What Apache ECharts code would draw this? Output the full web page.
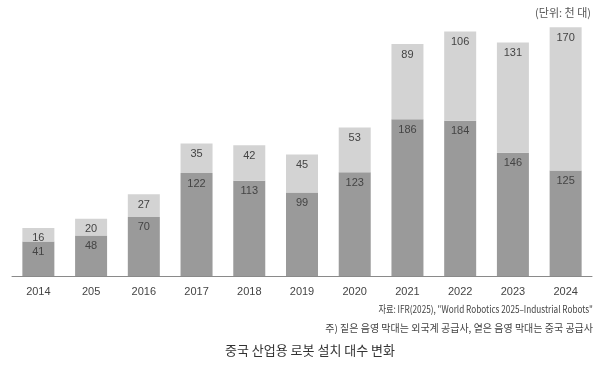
<!DOCTYPE html>
<html>
<head>
<meta charset="utf-8">
<script src="https://cdn.jsdelivr.net/npm/echarts@6/dist/echarts.min.js"></script>
<style>
  html, body { margin: 0; padding: 0; background: #fff; }
  #chart { width: 600px; height: 367px; }
</style>
</head>
<body>
<div id="chart"></div>
<script>
  // 연도 (원본 표기 그대로)
  var years = ['2014', '205', '2016', '2017', '2018', '2019', '2020', '2021', '2022', '2023', '2024'];
  // 중국 공급사 (짙은 음영)
  var chinaSupplier = [41, 48, 70, 122, 113, 99, 123, 186, 184, 146, 125];
  // 외국계 공급사 (옅은 음영)
  var foreignSupplier = [16, 20, 27, 35, 42, 45, 53, 89, 106, 131, 170];

  var myChart = echarts.init(document.getElementById('chart'));
  var labelStyle = {
    show: true,
    position: 'insideTop',
    distance: 5,
    color: '#444',
    fontSize: 11,
    fontFamily: 'Liberation Sans, Arial, sans-serif'
  };
  var option = {
    animation: false,
    grid: { left: 12, right: 8, top: 23, bottom: 91 },
    xAxis: {
      type: 'category',
      data: years,
      axisLine: { lineStyle: { color: '#8a8a8a', width: 1 } },
      axisTick: { show: false },
      axisLabel: {
        color: '#444',
        fontSize: 11,
        margin: 10,
        fontFamily: 'Liberation Sans, Arial, sans-serif'
      }
    },
    yAxis: {
      type: 'value',
      min: 0,
      max: 300,
      show: false
    },
    series: [
      {
        name: '중국 공급사',
        type: 'bar',
        stack: 'total',
        data: chinaSupplier,
        barWidth: 32,
        itemStyle: { color: '#9a9a9a' },
        label: labelStyle
      },
      {
        name: '외국계 공급사',
        type: 'bar',
        stack: 'total',
        data: foreignSupplier,
        barWidth: 32,
        itemStyle: { color: '#d3d3d3' },
        label: labelStyle
      }
    ],
    graphic: [
      {
        type: 'text', right: 9, top: 7,
        style: { text: '(단위: 천 대)', fill: '#555', fontSize: 11, fontFamily: 'Noto Sans CJK KR' }
      },
      {
        // 원본의 좁은 글꼴 느낌을 내기 위해 가로로 줄임
        type: 'text', x: 593, y: 304, scaleX: 0.82, originX: 0,
        style: { text: '자료: IFR(2025), "World Robotics 2025–Industrial Robots"', fill: '#444', fontSize: 10, align: 'right', fontFamily: 'Noto Sans CJK KR' }
      },
      {
        type: 'text', right: 7, top: 323,
        style: { text: '주) 짙은 음영 막대는 외국계 공급사, 옅은 음영 막대는 중국 공급사', fill: '#444', fontSize: 10, fontFamily: 'Noto Sans CJK KR' }
      },
      {
        type: 'text', left: 225, top: 344,
        style: { text: '중국 산업용 로봇 설치 대수 변화', fill: '#333', fontSize: 13, fontFamily: 'Noto Sans CJK KR' }
      }
    ]
  };
  myChart.setOption(option);
</script>
</body>
</html>
